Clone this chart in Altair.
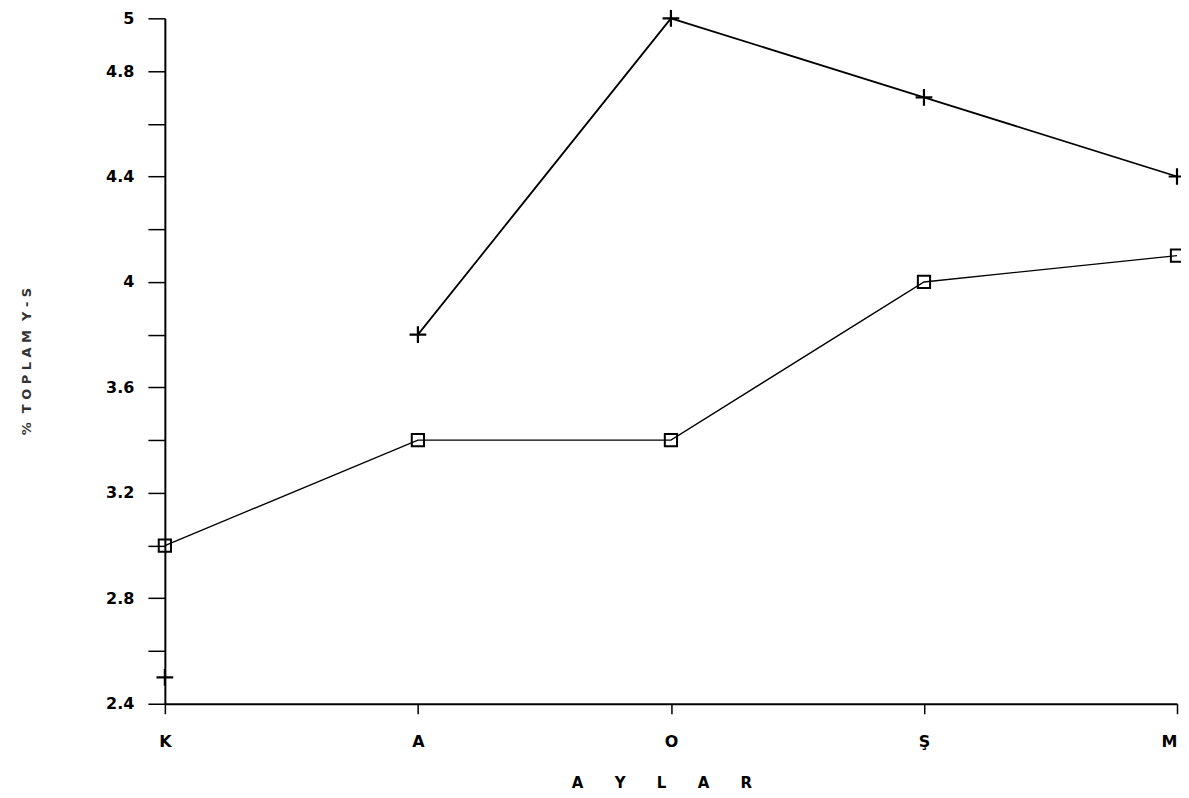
import altair as alt
import pandas as pd

MONTHS = ["K", "A", "O", "Ş", "M"]
SQUARE_SERIES = [3.0, 3.4, 3.4, 4.0, 4.1]
PLUS_SERIES = [2.5, 3.8, 5.0, 4.7, 4.4]
Y_TICKS = [2.4, 2.6, 2.8, 3.0, 3.2, 3.4, 3.6, 3.8, 4.0, 4.2, 4.4, 4.6, 4.8, 5.0]

NB = "\u00a0"
X_TITLE = (NB * 6).join(list("AYLAR"))
Y_TITLE = NB.join(["%", NB + "T", "O", "P", "L", "A", "M", NB + "Y", "-", "S"])

sq = pd.DataFrame({"ay": MONTHS, "v": SQUARE_SERIES})
pl = pd.DataFrame({"ay": MONTHS, "v": PLUS_SERIES})

FONT = "DejaVu Sans"

x_enc = alt.X(
    "ay:N",
    sort=MONTHS,
    scale=alt.Scale(type="point", padding=0, domain=MONTHS),
    axis=alt.Axis(
        title=X_TITLE,
        labelAngle=0,
        labelPadding=20,
        labelAlign={"condition": {"test": "datum.value == 'M'", "value": "right"}, "value": "center"},
        tickSize=10,
        tickColor="black",
        domainColor="black",
        domainWidth=2,
        tickWidth=1.5,
        labelFont=FONT,
        labelFontSize=16,
        labelFontWeight="bold",
        labelColor="black",
        titleFont=FONT,
        titleFontSize=15,
        titleFontWeight="bold",
        titlePadding=26,
        titleX=497,
        titleColor="black",
        grid=False,
    ),
)
y_enc = alt.Y(
    "v:Q",
    scale=alt.Scale(domain=[2.4, 5.0], nice=False, zero=False),
    axis=alt.Axis(
        title=Y_TITLE,
        values=Y_TICKS,
        format="~g",
        labelExpr="(round(datum.value*10)%4==0 || datum.value>4.99) ? datum.label : ''",
        tickSize=17,
        tickWidth=1.5,
        tickColor="black",
        domainColor="black",
        domainWidth=2,
        labelPadding=14,
        labelFont=FONT,
        labelFontSize=16,
        labelFontWeight="bold",
        labelColor="black",
        titleFont=FONT,
        titleFontSize=13,
        titleFontWeight="bold",
        titleColor="#333333",
        titlePadding=72,
        grid=False,
    ),
)

sq_line = alt.Chart(sq).mark_line(color="black", strokeWidth=1.4).encode(x=x_enc, y=y_enc)
sq_pts = alt.Chart(sq).mark_point(
    shape="square", size=150, filled=False, color="black", strokeWidth=2, opacity=1
).encode(x=x_enc, y=y_enc)

pl_line = (
    alt.Chart(pl)
    .transform_filter("datum.ay != 'K'")
    .mark_line(color="black", strokeWidth=1.8)
    .encode(x=x_enc, y=y_enc)
)
pl_pts = alt.Chart(pl).mark_point(
    shape="M-1,0L1,0M0,-1L0,1", size=280, filled=False, color="black", strokeWidth=2.2, opacity=1
).encode(x=x_enc, y=y_enc)

chart = (
    alt.layer(sq_line, pl_line, sq_pts, pl_pts)
    .properties(
        width=1013,
        height=686,
        autosize=alt.AutoSizeParams(type="none"),
        padding={"left": 157, "top": 10, "right": 4, "bottom": 88},
        background="white",
    )
    .configure_view(stroke=None)
)

chart.save("out.html", embed_options={"renderer": "svg", "actions": False})
